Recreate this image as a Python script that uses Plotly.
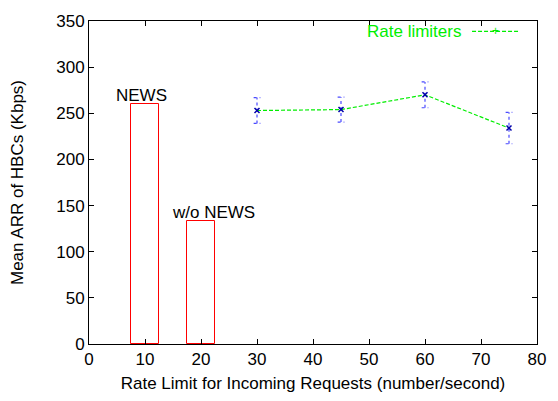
import plotly.graph_objects as go

# Data
bar_x = [10, 20]
bar_vals = [260, 133]
bar_labels = ["NEWS", "w/o NEWS"]
bar_width = 5

rl_x = [30, 45, 60, 75]
rl_vals = [253, 254, 270, 234]
rl_err = [14, 13.5, 14, 17]

x_ticks = [0, 10, 20, 30, 40, 50, 60, 70, 80]
y_ticks = [0, 50, 100, 150, 200, 250, 300, 350]

FONT = "Liberation Sans, Arial, sans-serif"
FS = 17

fig = go.Figure()

# Bars (outline only)
fig.add_trace(go.Bar(
    x=bar_x, y=bar_vals, width=bar_width,
    marker=dict(color="rgba(0,0,0,0)", line=dict(color="#ff0000", width=1)),
    showlegend=False, hoverinfo="skip"))

# Error bars drawn as dotted blue segments with caps
cap = 0.6
ex, ey = [], []
for xv, v, e in zip(rl_x, rl_vals, rl_err):
    ex += [xv, xv, None, xv - cap, xv + cap, None, xv - cap, xv + cap, None]
    ey += [v - e, v + e, None, v - e, v - e, None, v + e, v + e, None]
fig.add_trace(go.Scatter(
    x=ex, y=ey, mode="lines",
    line=dict(color="#4a4aff", width=1.2, dash="dot"),
    showlegend=False, hoverinfo="skip"))

# Line
fig.add_trace(go.Scatter(
    x=rl_x, y=rl_vals, mode="lines+markers",
    line=dict(color="#00ee00", width=1.2, dash="4px,2px"),
    marker=dict(symbol="x-thin", size=5, color="#0000aa",
                line=dict(color="#0000aa", width=1.5)),
    showlegend=False))

# Bar labels
offsets = [-0.7, 2.3]
for xv, v, t, off in zip(bar_x, bar_vals, bar_labels, offsets):
    fig.add_annotation(x=xv + off, y=v, text=t,
                       showarrow=False, yanchor="bottom", yshift=-3,
                       font=dict(family=FONT, size=FS, color="black"))

# Manual legend (text left, sample right)
LY = 0.968
fig.add_annotation(xref="paper", yref="paper", x=0.835, y=LY,
                   text="Rate limiters", showarrow=False,
                   xanchor="right", yanchor="middle",
                   font=dict(family=FONT, size=FS, color="#00ee00"))
fig.add_shape(type="line", xref="paper", yref="paper",
              x0=0.855, x1=0.96, y0=LY, y1=LY,
              line=dict(color="#00ee00", width=1.2, dash="4px,2px"))
fig.add_annotation(xref="paper", yref="paper", x=0.9075, y=LY,
                   text="+", showarrow=False,
                   xanchor="center", yanchor="middle",
                   font=dict(family=FONT, size=12, color="#00ee00"))

axis_common = dict(
    showgrid=False, zeroline=False, showline=True, linecolor="black",
    linewidth=1, mirror="ticks", ticks="inside", ticklen=5,
    tickcolor="black", tickfont=dict(family=FONT, size=FS, color="black"))

fig.update_xaxes(range=[0, 80], tickvals=x_ticks,
                 title=dict(text="Rate Limit for Incoming Requests (number/second)",
                            font=dict(family=FONT, size=FS, color="black"), standoff=8),
                 **axis_common)
fig.update_yaxes(range=[0, 350], tickvals=y_ticks,
                 title=dict(text="Mean ARR of HBCs (Kbps)",
                            font=dict(family=FONT, size=FS, color="black"), standoff=28),
                 **axis_common)

fig.update_layout(
    width=558, height=401,
    margin=dict(l=89, r=13, t=15, b=57),
    paper_bgcolor="white", plot_bgcolor="white",
    showlegend=False, bargap=0)

fig.write_html("out.html")
